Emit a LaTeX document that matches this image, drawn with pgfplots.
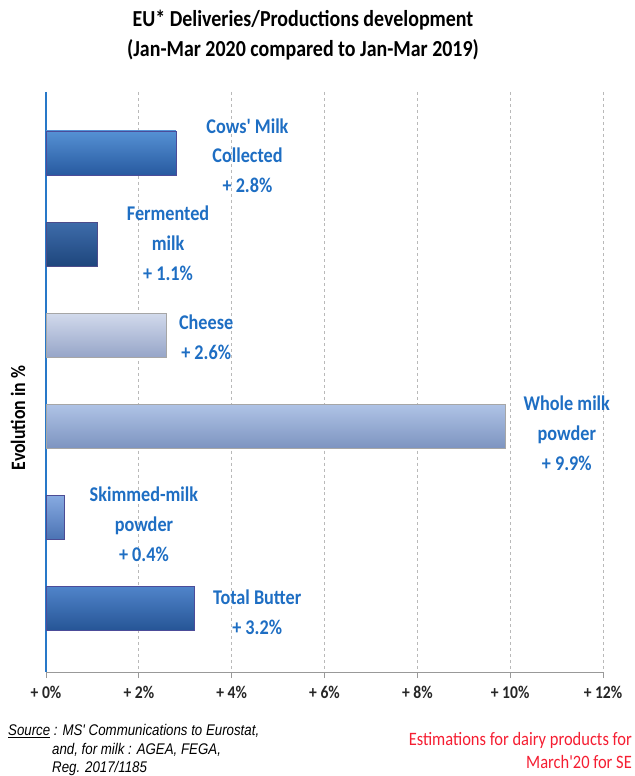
\documentclass[border=0pt]{standalone}
\usepackage{pgfplots}
\pgfplotsset{compat=1.18}
\usepackage{fontspec}
\setmainfont[FakeStretch=0.87]{Carlito}
\newfontfamily\straightfont[FakeStretch=0.87, Ligatures=TeXOff]{Carlito}
\newfontfamily\arialfont[FakeStretch=0.86]{Liberation Sans}
\newfontfamily\straightarial[FakeStretch=0.86, Ligatures=TeXOff]{Liberation Sans}
\definecolor{lblblue}{RGB}{30,110,195}
\definecolor{axblue}{RGB}{40,120,200}
\definecolor{redtxt}{RGB}{245,30,50}
\newcommand{\q}{{\straightfont '}}
\newcommand{\qa}{{\straightarial\itshape '}}
\tikzset{lbl/.style={align=center, text=lblblue, font=\bfseries\fontsize{21}{30}\selectfont}}
\begin{document}
\begin{tikzpicture}[x=1bp,y=1bp]
\useasboundingbox (0,0) rectangle (635,776);
\begin{axis}[
  at={(46bp,104bp)}, anchor=south west,
  scale only axis, width=557bp, height=580bp,
  xmin=0, xmax=12, ymin=-0.67, ymax=5.70,
  y dir=reverse,
  axis x line=bottom, axis y line=left,
  x axis line style={draw=gray!80, line width=0.8pt, -},
  y axis line style={draw=axblue, line width=1.3pt, -},
  xtick={0,2,4,6,8,10,12},
  xticklabels={+ 0\%, + 2\%, + 4\%, + 6\%, + 8\%, + 10\%, + 12\%},
  xticklabel style={font=\bfseries\fontsize{18}{20}\selectfont, text=black!85, yshift=-5bp},
  ytick=\empty,
  tick align=outside, major tick length=6bp,
  xtick style={draw=gray!80, line width=0.8pt},
  xmajorgrids, grid style={dashed, gray!55, line width=0.7pt},
  clip=false,
]
\addplot[xbar, bar width=44bp, bar shift=0pt, draw=black!25!blue!40!gray, top color={rgb,255:red,85;green,145;blue,212}, bottom color={rgb,255:red,40;green,90;blue,160}] coordinates {(2.8,0)};
\addplot[xbar, bar width=44bp, bar shift=0pt, draw=black!40!blue!40!gray, top color={rgb,255:red,62;green,108;blue,170}, bottom color={rgb,255:red,30;green,70;blue,125}] coordinates {(1.1,1)};
\addplot[xbar, bar width=44bp, bar shift=0pt, draw=gray!70, top color={rgb,255:red,210;green,218;blue,236}, bottom color={rgb,255:red,150;green,165;blue,200}] coordinates {(2.6,2)};
\addplot[xbar, bar width=44bp, bar shift=0pt, draw=gray!70, top color={rgb,255:red,175;green,195;blue,230}, bottom color={rgb,255:red,125;green,148;blue,192}] coordinates {(9.9,3)};
\addplot[xbar, bar width=44bp, bar shift=0pt, draw=black!30!blue!40!gray, top color={rgb,255:red,135;green,170;blue,225}, bottom color={rgb,255:red,75;green,115;blue,180}] coordinates {(0.4,4)};
\addplot[xbar, bar width=44bp, bar shift=0pt, draw=black!25!blue!40!gray, top color={rgb,255:red,80;green,132;blue,202}, bottom color={rgb,255:red,38;green,85;blue,150}] coordinates {(3.2,5)};
\node[lbl] at (axis cs:4.34,0.03) {Cows\q\ Milk\\Collected\\+ 2.8\%};
\node[lbl] at (axis cs:2.63,0.99) {Fermented\\milk\\+ 1.1\%};
\node[lbl] at (axis cs:3.45,2.02) {Cheese\\+ 2.6\%};
\node[lbl] at (axis cs:11.22,3.08) {Whole milk\\powder\\+ 9.9\%};
\node[lbl] at (axis cs:2.11,4.08) {Skimmed-milk\\powder\\+ 0.4\%};
\node[lbl] at (axis cs:4.55,5.04) {Total Butter\\+ 3.2\%};
\end{axis}
\node[font=\bfseries\fontsize{23}{26}\selectfont] at (303,756) {EU* Deliveries/Productions development};
\node[font=\bfseries\fontsize{23}{26}\selectfont] at (303,726) {(Jan-Mar 2020 compared to Jan-Mar 2019)};
\node[rotate=90, font=\bfseries\fontsize{20.5}{22}\selectfont] at (18,358) {Evolution in \%};
\node[anchor=base west, font=\arialfont\itshape\fontsize{15.5}{18}\selectfont, inner sep=0pt] at (8,40) {\underline{Source} : MS\qa\ Communications to Eurostat,};
\node[anchor=base west, font=\arialfont\itshape\fontsize{15.5}{18}\selectfont, inner sep=0pt] at (52,21) {and, for milk : AGEA, FEGA,};
\node[anchor=base west, font=\arialfont\itshape\fontsize{15.5}{18}\selectfont, inner sep=0pt] at (52,3) {Reg. 2017/1185};
\node[anchor=base east, text=redtxt, font=\fontsize{19}{22}\selectfont, inner sep=0pt] at (632,30) {Estimations for dairy products for};
\node[anchor=base east, text=redtxt, font=\fontsize{19}{22}\selectfont, inner sep=0pt] at (632,7) {March\q 20 for SE};
\end{tikzpicture}
\end{document}
